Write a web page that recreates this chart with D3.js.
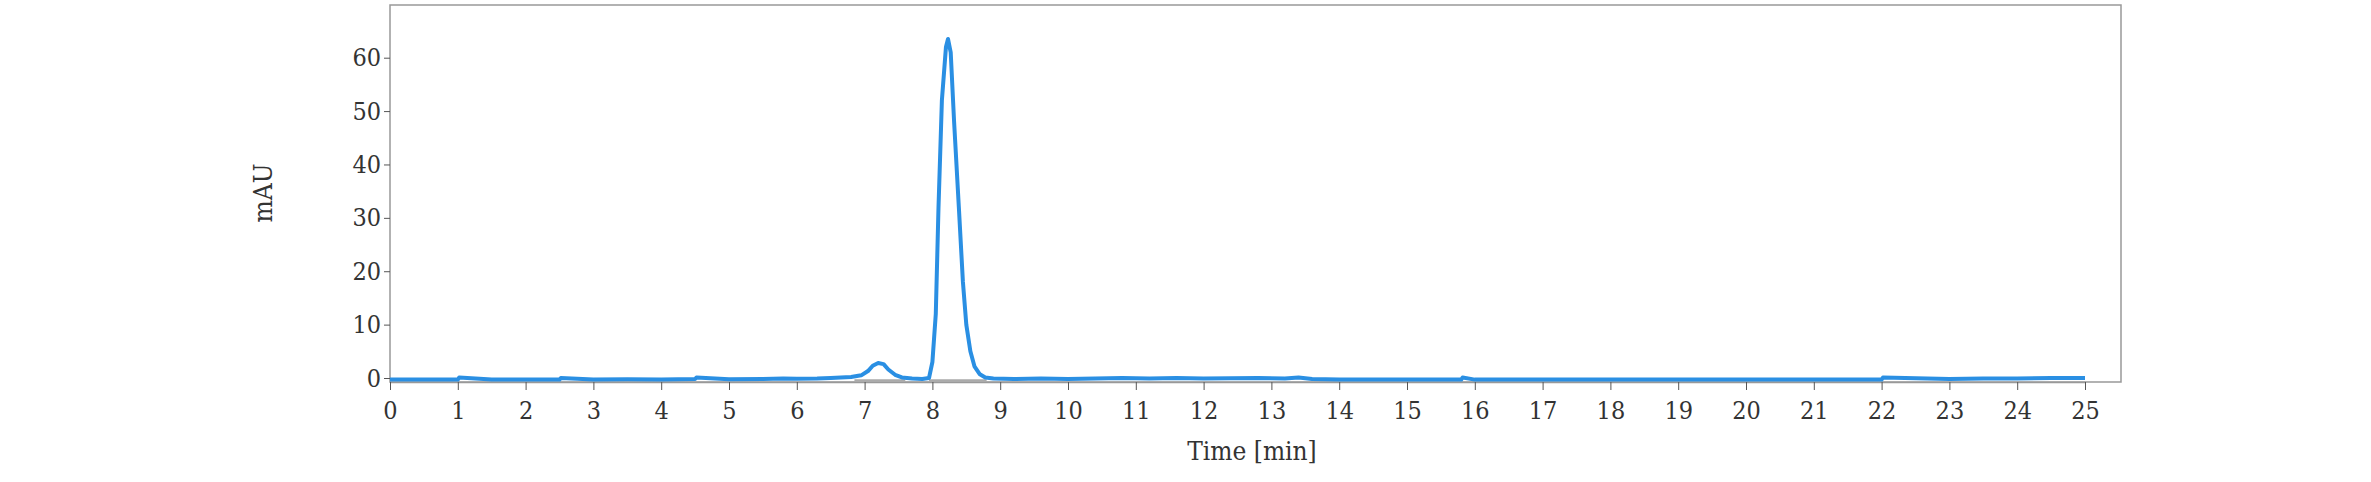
<!DOCTYPE html>
<html><head><meta charset="utf-8">
<script src="https://cdn.jsdelivr.net/npm/d3@7"></script>
<style>body{margin:0;background:#fff}</style></head>
<body><svg id="c" width="2371" height="482"></svg>
<script>
const xTicks = d3.range(0, 26);
const yTicks = [0, 10, 20, 30, 40, 50, 60];
const times = [0,0.5,1,1.02,1.5,2,2.5,2.52,3,3.5,4,4.5,4.52,5,5.5,5.8,6,6.3,6.5,6.8,6.95,7.05,7.12,7.2,7.28,7.35,7.45,7.55,7.7,7.85,7.95,8.0,8.05,8.09,8.14,8.2,8.23,8.27,8.32,8.39,8.45,8.5,8.56,8.62,8.7,8.78,8.9,9.2,9.6,10,10.4,10.8,11.2,11.6,12,12.4,12.8,13.2,13.4,13.6,14,15,15.8,15.82,16,17,18,19,20,21,22,22.02,23,23.5,24,24.5,25];
const mau = [-0.3,-0.3,-0.3,0.1,-0.3,-0.3,-0.3,0,-0.3,-0.25,-0.3,-0.2,0.1,-0.25,-0.2,-0.1,-0.15,-0.1,0,0.2,0.5,1.3,2.3,2.8,2.6,1.6,0.6,0.1,-0.1,-0.2,0,3,12,32,52,62,63.5,61,48,32,18,10,5,2.2,0.7,0.1,-0.1,-0.2,-0.1,-0.2,-0.1,0,-0.1,0,-0.1,-0.05,0,-0.1,0.1,-0.2,-0.3,-0.3,-0.3,0.1,-0.3,-0.3,-0.3,-0.3,-0.3,-0.3,-0.3,0.1,-0.2,-0.1,-0.1,0,0];
const data = times.map((t,i)=>({t, v:mau[i]}));

const svg = d3.select("#c");
const L=390, R=2121, T=5, B=382;
const x = d3.scaleLinear().domain([0,25]).range([L,2085]);
const y = d3.scaleLinear().domain([0,60]).range([378,57.7]);
const font = "'DejaVu Serif Condensed','DejaVu Serif',serif";

svg.append("rect").attr("x",L).attr("y",T).attr("width",R-L).attr("height",B-T)
  .attr("fill","none").attr("stroke","#999").attr("stroke-width",1.5);

const gx = svg.append("g").attr("transform",`translate(0,${B})`)
  .call(d3.axisBottom(x).tickValues(xTicks).tickSize(8).tickSizeOuter(0));
const gy = svg.append("g").attr("transform",`translate(${L},0)`)
  .call(d3.axisLeft(y).tickValues(yTicks).tickSize(6).tickSizeOuter(0));
[gx,gy].forEach(g=>{
  g.select(".domain").attr("stroke","#999").attr("stroke-width",1.5);
  g.selectAll(".tick line").attr("stroke","#555");
  g.selectAll("text").attr("font-family",font).attr("font-size",25).attr("fill","#333");
});
gx.selectAll("text").attr("dy","1.05em");
gy.select(".domain").remove();

svg.append("text").attr("x",1252).attr("y",460).attr("text-anchor","middle")
  .attr("font-family",font).attr("font-size",26).attr("fill","#333").text("Time [min]");
svg.append("text").attr("transform","translate(272,193) rotate(-90)").attr("text-anchor","middle")
  .attr("font-family",font).attr("font-size",26).attr("fill","#333").text("mAU");

// integration baselines
[[6.85,7.6],[7.95,8.8]].forEach(s=>svg.append("line").attr("x1",x(s[0])).attr("x2",x(s[1]))
  .attr("y1",y(-0.4)).attr("y2",y(-0.4)).attr("stroke","#aaa").attr("stroke-width",2));

svg.append("path").datum(data)
  .attr("d",d3.line().x(d=>x(d.t)).y(d=>y(d.v)))
  .attr("fill","none").attr("stroke","#2a8fe3").attr("stroke-width",4).attr("stroke-linejoin","round");
</script></body></html>
